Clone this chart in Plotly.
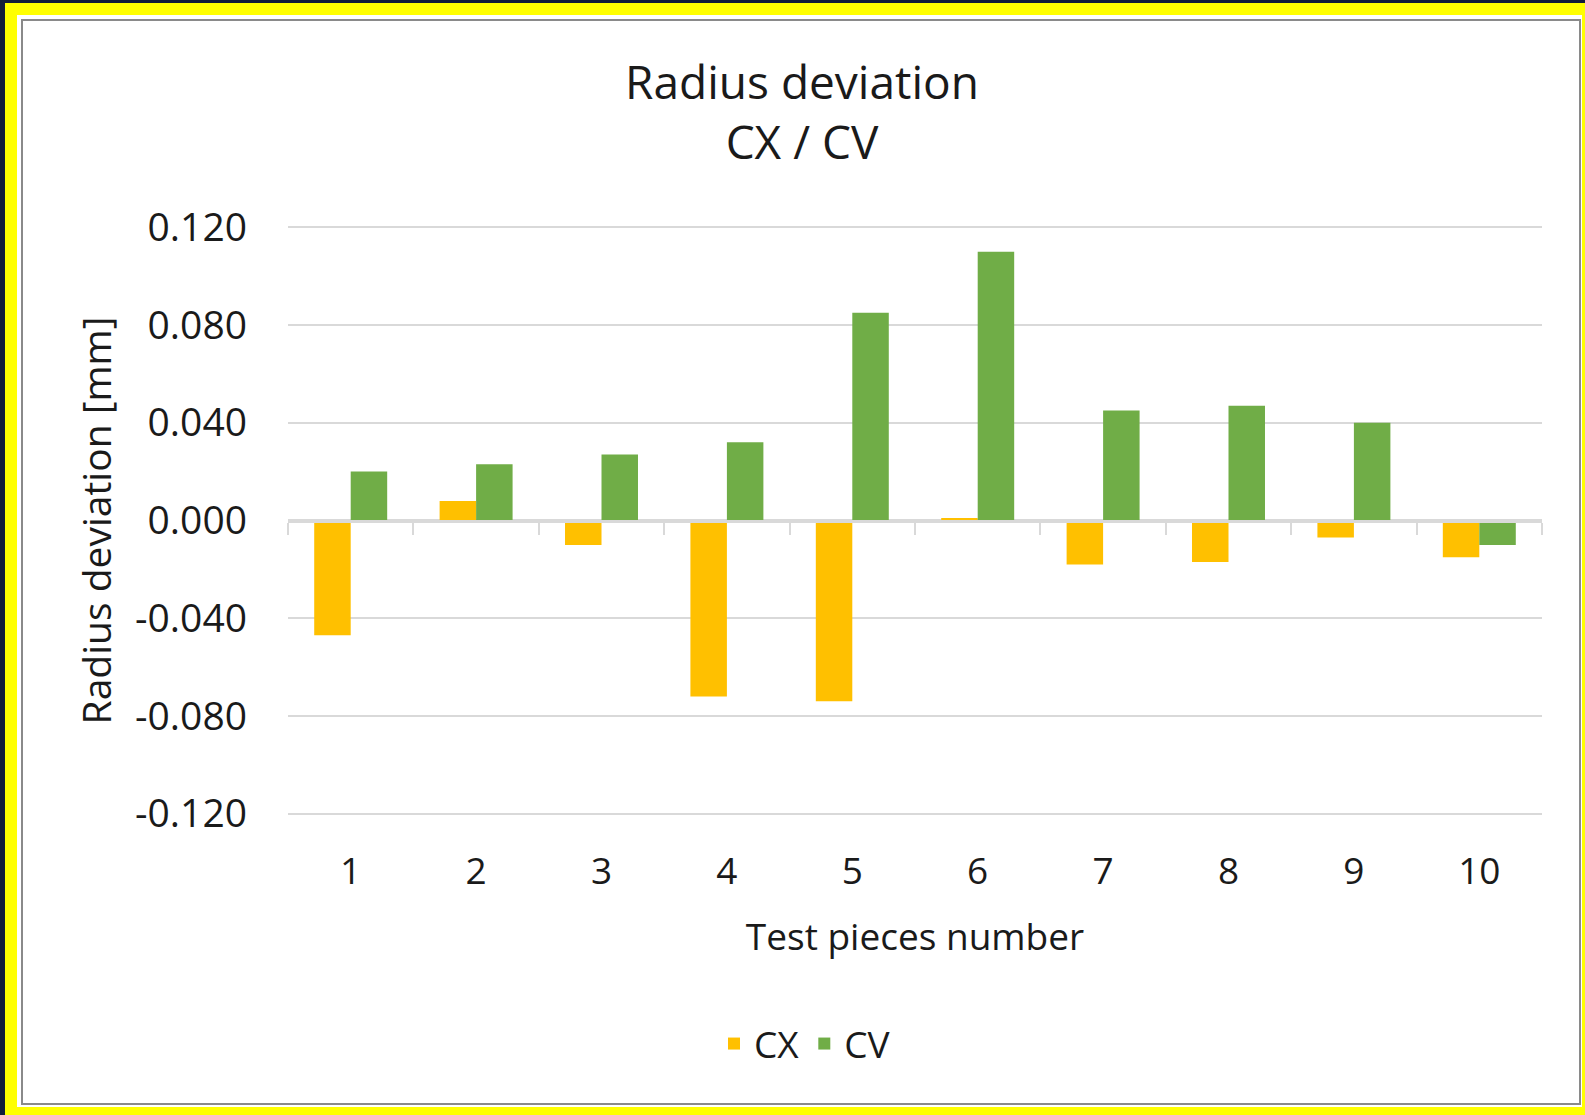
import plotly.graph_objects as go

# ---- data ----
categories = ["1", "2", "3", "4", "5", "6", "7", "8", "9", "10"]
cx_values = [-0.047, 0.008, -0.010, -0.072, -0.074, 0.001, -0.018, -0.017, -0.007, -0.015]
cv_values = [0.020, 0.023, 0.027, 0.032, 0.085, 0.110, 0.045, 0.047, 0.040, -0.010]
y_tick_vals = [-0.12, -0.08, -0.04, 0.0, 0.04, 0.08, 0.12]
y_tick_text = ["-0.120", "-0.080", "-0.040", "0.000", "0.040", "0.080", "0.120"]
series_names = ["CX", "CV"]
series_colors = ["#FFC000", "#70AD47"]

# ---- layout geometry ----
W, H = 1585, 1115
ML, MR, MT, MB = 288, 43, 226, 300
PW, PH = W - ML - MR, H - MT - MB
Y_MIN, Y_MAX = -0.1205, 0.1205
FONT = "Open Sans"
TXT = "#1a1a1a"
GRID = "#d9d9d9"


def px_x(px):
    return (px - ML) / PW


def px_y(py):
    return (H - MB - py) / PH


fig = go.Figure()
for name, vals, col in zip(series_names, [cx_values, cv_values], series_colors):
    fig.add_trace(go.Bar(name=name, x=categories, y=vals,
                         marker=dict(color=col, line=dict(width=0))))

shapes = [
    # outer dark edges
    dict(type="rect", xref="paper", yref="paper", x0=px_x(0), x1=px_x(5),
         y0=px_y(H), y1=px_y(0), fillcolor="#121c3a", line=dict(width=0), layer="below"),
    dict(type="rect", xref="paper", yref="paper", x0=px_x(0), x1=px_x(W),
         y0=px_y(3), y1=px_y(0), fillcolor="#121c3a", line=dict(width=0), layer="below"),
    # white chart card
    dict(type="rect", xref="paper", yref="paper", x0=px_x(17), x1=px_x(1582),
         y0=px_y(1107), y1=px_y(15), fillcolor="white", line=dict(width=0), layer="below"),
    dict(type="rect", xref="paper", yref="paper", x0=px_x(22), x1=px_x(1580),
         y0=px_y(1104), y1=px_y(20), fillcolor="rgba(0,0,0,0)",
         line=dict(color="#8a8a8a", width=2), layer="below"),
]

fig.update_layout(
    width=W, height=H,
    margin=dict(l=ML, r=MR, t=MT, b=MB, autoexpand=False),
    paper_bgcolor="#FFFF00",
    plot_bgcolor="white",
    font=dict(family=FONT, color=TXT),
    barmode="group", bargap=0.418, bargroupgap=0.0,
    shapes=shapes,
    title=dict(text="Radius deviation<br>CX / CV", x=802 / W, xref="container",
               xanchor="center", y=1 - 99 / H, yref="container", yanchor="top",
               font=dict(family=FONT, size=46, color=TXT)),
    showlegend=True,
    legend=dict(orientation="h", xref="container", x=805 / W, xanchor="center",
                yref="container", y=1 - 1044 / H, yanchor="middle",
                font=dict(family=FONT, size=37, color=TXT),
                bgcolor="rgba(0,0,0,0)", itemwidth=30, traceorder="normal"),
    xaxis=dict(type="category", anchor="free", position=(0 - Y_MIN) / (Y_MAX - Y_MIN),
               showline=True, linecolor=GRID, linewidth=3,
               ticks="outside", tickson="boundaries", ticklen=12, tickwidth=2,
               tickcolor=GRID, showgrid=False, zeroline=False,
               ticklabelstandoff=317,
               tickfont=dict(family=FONT, size=37, color=TXT),
               title=dict(text="Test pieces number", standoff=30,
                          font=dict(family=FONT, size=37, color=TXT))),
    yaxis=dict(range=[Y_MIN, Y_MAX], tickvals=y_tick_vals, ticktext=y_tick_text,
               showgrid=True, gridcolor=GRID, gridwidth=2,
               zeroline=True, zerolinecolor=GRID, zerolinewidth=3,
               showline=False, ticks="", ticklabelstandoff=40,
               tickfont=dict(family=FONT, size=39, color=TXT),
               title=dict(text="Radius deviation [mm]", standoff=11,
                          font=dict(family=FONT, size=39, color=TXT))),
)

fig.write_html(
    "out.html",
    config={"displayModeBar": False},
    post_script="document.body.style.margin='0';document.body.style.overflow='hidden';",
)
